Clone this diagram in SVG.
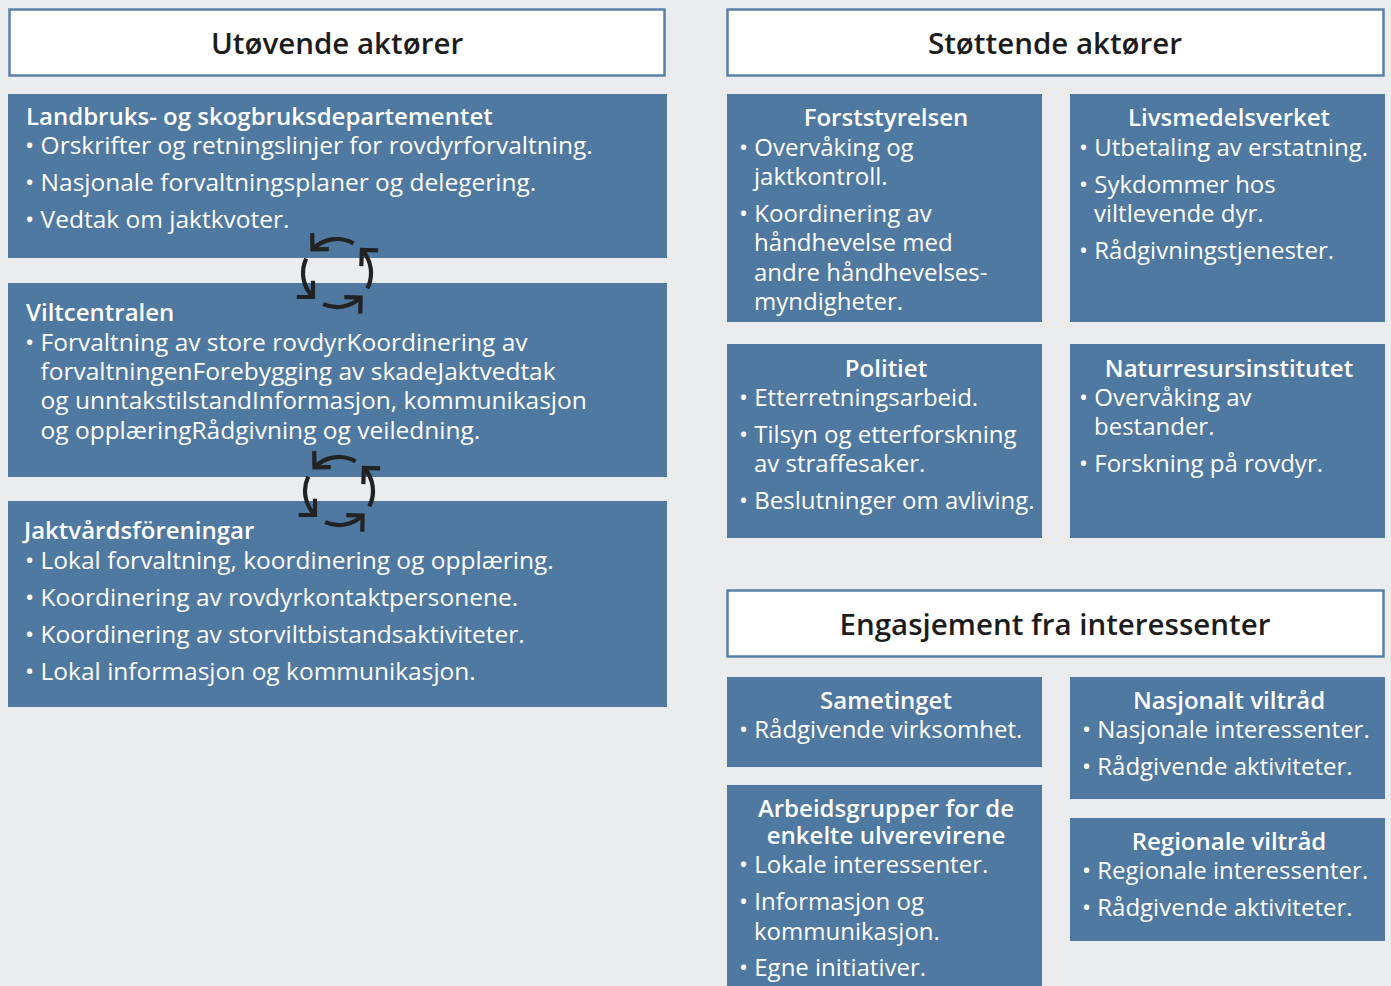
<svg xmlns="http://www.w3.org/2000/svg" xmlns:xlink="http://www.w3.org/1999/xlink" width="1391" height="986" viewBox="0 0 1391 986">
<style>
.bg{fill:#ebecee}
.title{fill:#ffffff;stroke:#5b80a8;stroke-width:2.5}
.box{fill:#4f79a1}
.tt{font-family:"Open Sans","Noto Sans","DejaVu Sans",sans-serif;font-size:29.5px;font-weight:600;fill:#1c1c1c;text-anchor:middle}
.h{font-family:"Open Sans","Noto Sans","DejaVu Sans",sans-serif;font-size:24px;font-weight:600;fill:#ffffff}
.hc{text-anchor:middle}
.b{font-family:"Open Sans","Noto Sans","DejaVu Sans",sans-serif;font-size:24.5px;font-weight:400;fill:#ffffff}
.r{font-family:"Open Sans","Noto Sans","DejaVu Sans",sans-serif;font-size:24px;font-weight:400;fill:#ffffff}
.arc{fill:none;stroke:#222222;stroke-width:4.2;marker-end:url(#chev)}
</style>
<defs>
<marker id="chev" markerUnits="userSpaceOnUse" viewBox="-15 -15 30 30" markerWidth="30" markerHeight="30" refX="0" refY="0" orient="auto">
<path d="M-11.5,-11.5 L0,0 L-11.5,11.5" fill="none" stroke="#222222" stroke-width="4.2"/>
</marker>
<g id="cycle">
<path class="arc" d="M353.5,243.3 A34,34 0 0 0 312.5,249.4"/>
<path class="arc" d="M306.2,258.6 A34,34 0 0 0 313.0,297.0"/>
<path class="arc" d="M323.2,304.1 A34,34 0 0 0 360.6,297.5"/>
<path class="arc" d="M367.3,288.4 A34,34 0 0 0 361.9,249.8"/>
</g>
</defs>
<rect class="bg" x="0" y="0" width="1391" height="986"/>

<g id="title-utovende">
<rect class="title" x="9.5" y="9.5" width="655" height="66"/>
<text class="tt" x="337" y="54">Utøvende aktører</text>
</g>
<g id="title-stottende">
<rect class="title" x="727.5" y="9.5" width="656" height="66"/>
<text class="tt" x="1055" y="54">Støttende aktører</text>
</g>
<g id="title-engasjement">
<rect class="title" x="727.5" y="590.5" width="656" height="66"/>
<text class="tt" x="1055" y="635">Engasjement fra interessenter</text>
</g>

<g id="node-lmd">
<rect class="box" x="8" y="94" width="659" height="164"/>
<text class="h" x="26" y="125">Landbruks- og skogbruksdepartementet</text>
<text class="b" x="25" y="154">• Orskrifter og retningslinjer for rovdyrforvaltning.</text>
<text class="b" x="25" y="191">• Nasjonale forvaltningsplaner og delegering.</text>
<text class="b" x="25" y="228">• Vedtak om jaktkvoter.</text>
</g>
<g id="node-viltcentralen">
<rect class="box" x="8" y="283" width="659" height="194"/>
<text class="h" x="26" y="321">Viltcentralen</text>
<text class="b" x="25" y="351">• Forvaltning av store rovdyrKoordinering av</text>
<text class="b" x="40.5" y="380">forvaltningenForebygging av skadeJaktvedtak</text>
<text class="b" x="40.5" y="409">og unntakstilstandInformasjon, kommunikasjon</text>
<text class="b" x="40.5" y="439">og opplæringRådgivning og veiledning.</text>
</g>
<g id="node-jaktvard">
<rect class="box" x="8" y="501" width="659" height="206"/>
<text class="h" x="24" y="539">Jaktvårdsföreningar</text>
<text class="b" x="25" y="569">• Lokal forvaltning, koordinering og opplæring.</text>
<text class="b" x="25" y="606">• Koordinering av rovdyrkontaktpersonene.</text>
<text class="b" x="25" y="643">• Koordinering av storviltbistandsaktiviteter.</text>
<text class="b" x="25" y="680">• Lokal informasjon og kommunikasjon.</text>
</g>

<g id="node-forststyrelsen">
<rect class="box" x="727" y="94" width="315" height="228"/>
<text class="h hc" x="886" y="126">Forststyrelsen</text>
<text class="r" x="739" y="156">• Overvåking og</text>
<text class="r" x="754" y="185">jaktkontroll.</text>
<text class="r" x="739" y="222">• Koordinering av</text>
<text class="r" x="754" y="251">håndhevelse med</text>
<text class="r" x="754" y="281">andre håndhevelses-</text>
<text class="r" x="754" y="310">myndigheter.</text>
</g>
<g id="node-livsmedelsverket">
<rect class="box" x="1070" y="94" width="315" height="228"/>
<text class="h hc" x="1229" y="126">Livsmedelsverket</text>
<text class="r" x="1079" y="156">• Utbetaling av erstatning.</text>
<text class="r" x="1079" y="193">• Sykdommer hos</text>
<text class="r" x="1094" y="222">viltlevende dyr.</text>
<text class="r" x="1079" y="259">• Rådgivningstjenester.</text>
</g>
<g id="node-politiet">
<rect class="box" x="727" y="344" width="315" height="194"/>
<text class="h hc" x="886" y="377">Politiet</text>
<text class="r" x="739" y="406">• Etterretningsarbeid.</text>
<text class="r" x="739" y="443">• Tilsyn og etterforskning</text>
<text class="r" x="754" y="472">av straffesaker.</text>
<text class="r" x="739" y="509">• Beslutninger om avliving.</text>
</g>
<g id="node-naturresurs">
<rect class="box" x="1070" y="344" width="315" height="194"/>
<text class="h hc" x="1229" y="377">Naturresursinstitutet</text>
<text class="r" x="1079" y="406">• Overvåking av</text>
<text class="r" x="1094" y="435">bestander.</text>
<text class="r" x="1079" y="472">• Forskning på rovdyr.</text>
</g>

<g id="node-sametinget">
<rect class="box" x="727" y="677" width="315" height="90"/>
<text class="h hc" x="886" y="709">Sametinget</text>
<text class="r" x="739" y="738">• Rådgivende virksomhet.</text>
</g>
<g id="node-nasjonalt">
<rect class="box" x="1070" y="677" width="315" height="122"/>
<text class="h hc" x="1229" y="709">Nasjonalt viltråd</text>
<text class="r" x="1082" y="738">• Nasjonale interessenter.</text>
<text class="r" x="1082" y="775">• Rådgivende aktiviteter.</text>
</g>
<g id="node-arbeidsgrupper">
<rect class="box" x="727" y="785" width="315" height="205"/>
<text class="h hc" x="886" y="817">Arbeidsgrupper for de</text>
<text class="h hc" x="886" y="844">enkelte ulverevirene</text>
<text class="r" x="739" y="873">• Lokale interessenter.</text>
<text class="r" x="739" y="910">• Informasjon og</text>
<text class="r" x="754" y="940">kommunikasjon.</text>
<text class="r" x="739" y="976">• Egne initiativer.</text>
</g>
<g id="node-regionale">
<rect class="box" x="1070" y="818" width="315" height="123"/>
<text class="h hc" x="1229" y="850">Regionale viltråd</text>
<text class="r" x="1082" y="879">• Regionale interessenter.</text>
<text class="r" x="1082" y="916">• Rådgivende aktiviteter.</text>
</g>

<g id="connectors">
<use xlink:href="#cycle"/>
<use xlink:href="#cycle" transform="translate(2,218)"/>
</g>
</svg>
